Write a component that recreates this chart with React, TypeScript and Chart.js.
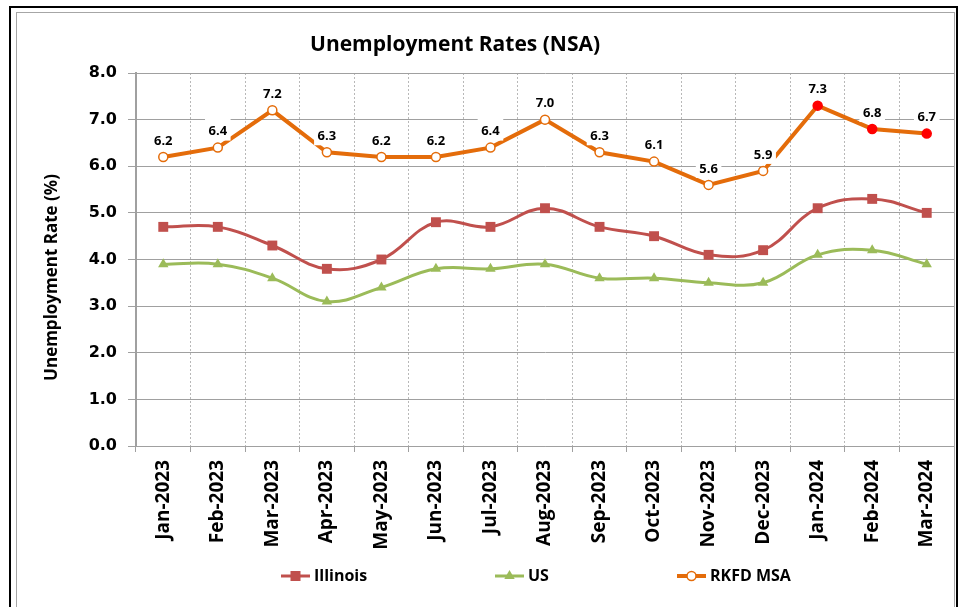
import React, { useEffect, useRef } from 'react';
import { Chart, registerables } from 'chart.js';

Chart.register(...registerables);

const categories = [
  'Jan-2023', 'Feb-2023', 'Mar-2023', 'Apr-2023', 'May-2023', 'Jun-2023', 'Jul-2023',
  'Aug-2023', 'Sep-2023', 'Oct-2023', 'Nov-2023', 'Dec-2023', 'Jan-2024', 'Feb-2024', 'Mar-2024',
];
const illinois = [4.7, 4.7, 4.3, 3.8, 4.0, 4.8, 4.7, 5.1, 4.7, 4.5, 4.1, 4.2, 5.1, 5.3, 5.0];
const us = [3.9, 3.9, 3.6, 3.1, 3.4, 3.8, 3.8, 3.9, 3.6, 3.6, 3.5, 3.5, 4.1, 4.2, 3.9];
const rkfd = [6.2, 6.4, 7.2, 6.3, 6.2, 6.2, 6.4, 7.0, 6.3, 6.1, 5.6, 5.9, 7.3, 6.8, 6.7];
const rkfdPreliminary = [false, false, false, false, false, false, false, false, false, false, false, false, true, true, true];
const seriesNames = ['Illinois', 'US', 'RKFD MSA'];
const yMin = 0;
const yMax = 8;
const yStep = 1;
const TITLE = 'Unemployment Rates (NSA)';
const Y_TITLE = 'Unemployment Rate (%)';

const FONT = "'Open Sans', sans-serif";
const C_IL = '#C0504D';
const C_US = '#9BBB59';
const C_RK = '#E46C0A';
const C_RED = '#FF0000';

const titlePlugin = {
  id: 'customTitle',
  afterDraw(chart: any) {
    const ctx = chart.ctx;
    ctx.save();
    ctx.font = `bold 21px ${FONT}`;
    ctx.fillStyle = '#000';
    ctx.textAlign = 'center';
    ctx.textBaseline = 'middle';
    ctx.fillText(TITLE, chart.width * 0.4675, 32);
    // y axis title
    const ca = chart.chartArea;
    ctx.font = `bold 17px ${FONT}`;
    ctx.translate(35, (ca.top + ca.bottom) / 2 + 18);
    ctx.rotate(-Math.PI / 2);
    ctx.fillText(Y_TITLE, 0, 0);
    ctx.restore();
  },
};

const labelPlugin = {
  id: 'rkfdLabels',
  afterDatasetsDraw(chart: any) {
    const ctx = chart.ctx;
    const meta = chart.getDatasetMeta(2);
    ctx.save();
    ctx.font = `bold 13px ${FONT}`;
    ctx.textAlign = 'center';
    ctx.textBaseline = 'middle';
    meta.data.forEach((pt: any, i: number) => {
      const txt = rkfd[i].toFixed(1);
      const w = ctx.measureText(txt).width + 7;
      const cy = pt.y - 16;
      ctx.fillStyle = '#fff';
      ctx.fillRect(pt.x - w / 2, cy - 13, w, 22);
      ctx.fillStyle = '#000';
      ctx.fillText(txt, pt.x, cy);
    });
    ctx.restore();
  },
};

function drawMarker(ctx: CanvasRenderingContext2D, kind: string, x: number, y: number, color: string) {
  ctx.save();
  if (kind === 'rect') {
    ctx.fillStyle = color;
    ctx.fillRect(x - 5, y - 5, 10, 10);
  } else if (kind === 'triangle') {
    const r = 6;
    ctx.fillStyle = color;
    ctx.beginPath();
    ctx.moveTo(x, y - r);
    ctx.lineTo(x + r * 0.866, y + r * 0.5);
    ctx.lineTo(x - r * 0.866, y + r * 0.5);
    ctx.closePath();
    ctx.fill();
  } else {
    ctx.fillStyle = '#fff';
    ctx.strokeStyle = color;
    ctx.lineWidth = 1.5;
    ctx.beginPath();
    ctx.arc(x, y, 4.5, 0, Math.PI * 2);
    ctx.fill();
    ctx.stroke();
  }
  ctx.restore();
}

const legendPlugin = {
  id: 'customLegend',
  afterDraw(chart: any) {
    const ctx = chart.ctx;
    const starts = [264, 478, 660];
    const kinds = ['rect', 'triangle', 'circle'];
    const colors = [C_IL, C_US, C_RK];
    const widths = [3, 3, 4];
    const y = 563;
    ctx.save();
    seriesNames.forEach((name, i) => {
      const x0 = starts[i];
      ctx.strokeStyle = colors[i];
      ctx.lineWidth = widths[i];
      ctx.beginPath();
      ctx.moveTo(x0, y);
      ctx.lineTo(x0 + 29, y);
      ctx.stroke();
      drawMarker(ctx, kinds[i], x0 + 14.5, y, colors[i]);
      ctx.font = `bold 16px ${FONT}`;
      ctx.fillStyle = '#000';
      ctx.textAlign = 'left';
      ctx.textBaseline = 'middle';
      ctx.fillText(name, x0 + 33, y);
    });
    ctx.restore();
  },
};

export default function App() {
  const ref = useRef<HTMLCanvasElement | null>(null);

  useEffect(() => {
    if (!ref.current) return;
    const chart = new Chart(ref.current, {
      type: 'line',
      data: {
        labels: categories,
        datasets: [
          {
            label: seriesNames[0],
            data: illinois,
            borderColor: C_IL,
            backgroundColor: C_IL,
            borderWidth: 3,
            tension: 0.4,
            pointStyle: 'rect',
            pointRadius: 7,
            pointBackgroundColor: C_IL,
            pointBorderColor: C_IL,
            pointBorderWidth: 0,
          },
          {
            label: seriesNames[1],
            data: us,
            borderColor: C_US,
            backgroundColor: C_US,
            borderWidth: 3,
            tension: 0.4,
            pointStyle: 'triangle',
            pointRadius: 6,
            pointBackgroundColor: C_US,
            pointBorderColor: C_US,
            pointBorderWidth: 0,
          },
          {
            label: seriesNames[2],
            data: rkfd,
            borderColor: C_RK,
            backgroundColor: C_RK,
            borderWidth: 4,
            tension: 0,
            pointStyle: 'circle',
            pointRadius: 4.5,
            pointBackgroundColor: rkfdPreliminary.map((p) => (p ? C_RED : '#fff')),
            pointBorderColor: rkfdPreliminary.map((p) => (p ? C_RED : C_RK)),
            pointBorderWidth: 1.5,
          },
        ],
      },
      options: {
        responsive: false,
        animation: false,
        devicePixelRatio: 1,
        layout: { autoPadding: false, padding: { top: 60, right: 0, bottom: 0, left: 0 } },
        plugins: {
          legend: { display: false },
          title: { display: false },
          tooltip: { enabled: false },
        },
        scales: {
          x: {
            type: 'category',
            offset: true,
            grid: {
              offset: true,
              color: '#b8b8b8',
              lineWidth: 1,
              tickLength: 6,
              tickColor: '#a0a0a0',
              tickBorderDash: [],
            },
            border: { color: '#a0a0a0', width: 1, dash: [2, 2] },
            ticks: {
              autoSkip: false,
              minRotation: 90,
              maxRotation: 90,
              padding: 8,
              color: '#000',
              font: { family: FONT, size: 19, weight: 'bold' },
            },
            afterFit(scale: any) {
              scale.height = 163;
              scale.paddingRight = 0;
              scale.paddingLeft = 0;
            },
          },
          y: {
            min: yMin,
            max: yMax,
            ticks: {
              stepSize: yStep,
              padding: 11,
              color: '#000',
              font: { family: "'DejaVu Sans', sans-serif", size: 16, weight: 'bold' },
              callback: (v: any) => Number(v).toFixed(1),
            },
            grid: { color: '#a0a0a0', lineWidth: 1, tickLength: 8, tickColor: '#a0a0a0' },
            border: { color: '#a0a0a0', width: 2 },
            afterFit(scale: any) {
              scale.width = 119;
            },
          },
        },
      },
      plugins: [titlePlugin, labelPlugin, legendPlugin],
    } as any);
    return () => chart.destroy();
  }, []);

  return (
    <div
      style={{
        position: 'absolute',
        left: 9,
        top: 6,
        width: 949,
        height: 606,
        border: '2px solid #000',
        boxSizing: 'border-box',
        background: '#fff',
      }}
    >
      <div
        style={{
          position: 'absolute',
          left: 5,
          top: 4,
          width: 939,
          height: 598,
          border: '1px solid #a6a6a6',
          boxSizing: 'border-box',
          overflow: 'hidden',
        }}
      >
        <canvas ref={ref} width={937} height={596} style={{ display: 'block', width: 937, height: 596 }} />
      </div>
    </div>
  );
}
